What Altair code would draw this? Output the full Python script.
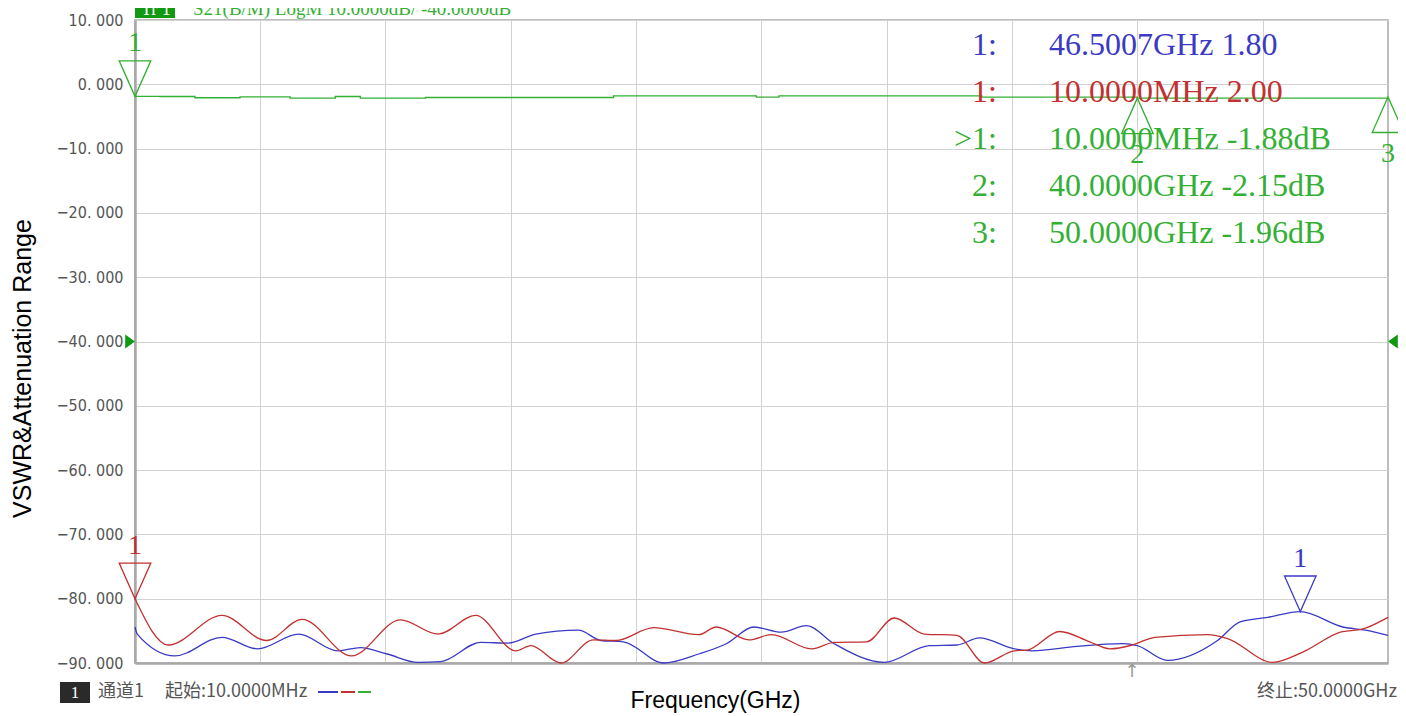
import altair as alt
import pandas as pd

# ---------------- data ----------------
blue_f = [0.01, 0.1, 1.6, 3.48, 4.9, 6.54, 8.1, 9.0, 10.07, 11.3, 12.2, 13.8, 14.9, 16.0,
          17.7, 18.6, 19.5, 21.1, 22.5, 23.6, 24.7, 25.8, 26.8, 27.9, 29.9, 31.7, 32.8,
          33.7, 35.1, 35.8, 37.6, 39.4, 40.0, 41.2, 43.2, 44.1, 45.2, 46.5, 48.2, 49.1, 50.0]
blue_v = [-84.4, -85.5, -88.9, -86.0, -87.8, -85.5, -88.1, -87.6, -88.6, -89.9, -89.8,
          -86.8, -86.9, -85.5, -84.9, -86.5, -86.7, -90.0, -88.6, -87.0, -84.4, -85.2,
          -84.2, -87.0, -89.9, -87.3, -87.2, -86.1, -87.8, -88.1, -87.4, -87.0, -87.3,
          -89.6, -86.5, -83.6, -82.9, -82.0, -84.4, -84.9, -85.7]

red_f = [0.01, 1.34, 3.48, 5.26, 6.68, 8.65, 10.6, 12.1, 13.6, 15.2, 15.8, 17.0, 18.3,
         19.2, 20.7, 22.5, 23.2, 24.5, 25.4, 27.0, 27.9, 29.2, 30.3, 31.5, 32.8, 33.9,
         35.1, 35.6, 36.9, 38.1, 38.9, 39.8, 40.7, 42.8, 43.6, 45.4, 46.6, 48.1, 49.0, 50.0]
red_v = [-80.0, -87.2, -82.6, -86.5, -83.2, -88.9, -83.3, -85.5, -82.6, -88.1, -87.3,
         -90.0, -86.4, -86.5, -84.5, -85.6, -84.4, -86.4, -85.6, -87.8, -86.8, -86.7,
         -83.0, -85.5, -85.7, -90.0, -88.1, -88.0, -85.1, -86.7, -87.8, -87.2, -86.0,
         -85.6, -86.2, -89.9, -88.3, -85.2, -84.7, -82.9]

green_f = [0.01, 1.0, 2.4, 4.2, 6.2, 8.0, 9.0, 11.6, 19.1, 24.8, 25.7, 33.8, 40.0, 50.0]
green_v = [-1.88, -1.9, -2.1, -1.95, -2.15, -1.9, -2.15, -2.05, -1.8, -2.0, -1.8, -2.0, -2.15, -1.96]

# markers
down_f = [0.01, 0.01, 46.5007]
down_v = [-1.88, -80.0, -82.0]
down_trace = ["S21", "VSWR2", "VSWR1"]
down_label = ["1", "1", "1"]

up_f = [40.0, 50.0]
up_v = [-2.15, -1.96]
up_trace = ["S21", "S21"]
up_label = ["2", "3"]

# marker read-out table
tbl_id = ["1:", "1:", ">1:", "2:", "3:"]
tbl_val = ["46.5007GHz 1.80", "10.0000MHz 2.00", "10.0000MHz -1.88dB",
           "40.0000GHz -2.15dB", "50.0000GHz -1.96dB"]
tbl_trace = ["VSWR1", "VSWR2", "S21", "S21", "S21"]

y_ticks = [10, 0, -10, -20, -30, -40, -50, -60, -70, -80, -90]
x_grid = [5, 10, 15, 20, 25, 30, 35, 40, 45]
ref_level = -40.0

BLUE, RED, GREEN = "#3a3ac4", "#c23030", "#33b033"
TXT_BLUE, TXT_RED, TXT_GREEN = "#2e2eb0", "#b02222", "#2aa82a"
trace_scale = alt.Scale(domain=["VSWR1", "VSWR2", "S21"], range=[BLUE, RED, GREEN])
text_scale = alt.Scale(domain=["VSWR1", "VSWR2", "S21"], range=[TXT_BLUE, TXT_RED, TXT_GREEN])

traces = pd.concat([
    pd.DataFrame({"f": blue_f, "v": blue_v, "trace": "VSWR1"}),
    pd.DataFrame({"f": red_f, "v": red_v, "trace": "VSWR2"}),
])
green_df = pd.DataFrame({"f": green_f, "v": green_v, "trace": "S21"})
down_df = pd.DataFrame({"f": down_f, "v": down_v, "trace": down_trace, "lab": down_label})
up_df = pd.DataFrame({"f": up_f, "v": up_v, "trace": up_trace, "lab": up_label})

xs = alt.Scale(domain=[0.01, 50.0], nice=False, zero=False)
ys = alt.Scale(domain=[-90, 10], nice=False, zero=False)

x_enc = alt.X("f:Q", scale=xs, axis=alt.Axis(
    values=x_grid, labels=False, ticks=False, grid=True, gridColor="#d2d2d2", gridWidth=1,
    domainColor="#a8a8a8", domainWidth=2.5, title="Frequency(GHz)",
    titleFont="Liberation Sans", titleFontSize=23, titleFontWeight="normal", titleColor="#000",
    titleX=580, titleY=37, titleBaseline="middle", titleAlign="center"))
y_enc = alt.Y("v:Q", scale=ys, axis=alt.Axis(
    values=y_ticks, labelExpr="replace(format(datum.value, '.3f'), '.', '. ')",
    ticks=False, grid=True, gridColor="#d2d2d2", gridWidth=1,
    domainColor="#a8a8a8", domainWidth=2.5, labelFont="DejaVu Sans Condensed",
    labelFontSize=16, labelColor="#555555", labelPadding=12,
    title="VSWR&Attenuation Range", titleFont="Liberation Sans", titleFontSize=25,
    titleFontWeight="normal", titleColor="#000", titleX=-113, titleY=348,
    titleAlign="center", titleBaseline="middle"))

lines = alt.Chart(traces).mark_line(strokeWidth=1.3, interpolate="monotone").encode(
    x=x_enc, y=y_enc,
    color=alt.Color("trace:N", scale=trace_scale, legend=None),
    detail="trace:N")

green_line = alt.Chart(green_df).mark_line(strokeWidth=1.4, interpolate="step-after").encode(
    x=alt.X("f:Q", scale=xs), y=alt.Y("v:Q", scale=ys),
    color=alt.Color("trace:N", scale=trace_scale, legend=None))

TRI_DOWN = "M0,0 L-1,-2.25 L1,-2.25 Z"
TRI_UP = "M0,0 L-1,2.25 L1,2.25 Z"

down_pts = alt.Chart(down_df).mark_point(shape=TRI_DOWN, size=1000, filled=False,
                                         strokeWidth=1.3, opacity=1).encode(
    x=alt.X("f:Q", scale=xs), y=alt.Y("v:Q", scale=ys),
    color=alt.Color("trace:N", scale=trace_scale, legend=None))
down_lab = alt.Chart(down_df).mark_text(font="Liberation Serif", fontSize=28, dy=-53,
                                        baseline="middle").encode(
    x=alt.X("f:Q", scale=xs), y=alt.Y("v:Q", scale=ys), text="lab:N",
    color=alt.Color("trace:N", scale=text_scale, legend=None))
up_pts = alt.Chart(up_df).mark_point(shape=TRI_UP, size=1000, filled=False,
                                     strokeWidth=1.3, opacity=1).encode(
    x=alt.X("f:Q", scale=xs), y=alt.Y("v:Q", scale=ys),
    color=alt.Color("trace:N", scale=trace_scale, legend=None))
up_lab = alt.Chart(up_df).mark_text(font="Liberation Serif", fontSize=28, dy=57,
                                    baseline="middle").encode(
    x=alt.X("f:Q", scale=xs), y=alt.Y("v:Q", scale=ys), text="lab:N",
    color=alt.Color("trace:N", scale=text_scale, legend=None))

# reference-level arrows
ref_df = pd.DataFrame({"f": [0.01], "v": [ref_level]})
ref_left = alt.Chart(ref_df).mark_point(shape="M0,0 L-1.4,-1 L-1.4,1 Z", size=196, filled=True,
                                        color="#119911", opacity=1).encode(
    x=alt.X("f:Q", scale=xs), y=alt.Y("v:Q", scale=ys))
ref_df2 = pd.DataFrame({"f": [50.0], "v": [ref_level]})
ref_right = alt.Chart(ref_df2).mark_point(shape="M0,0 L1.4,-1 L1.4,1 Z", size=196, filled=True,
                                          color="#119911", opacity=1).encode(
    x=alt.X("f:Q", scale=xs), y=alt.Y("v:Q", scale=ys))

# marker table
tbl_df = pd.DataFrame({"id": tbl_id, "val": tbl_val, "trace": tbl_trace,
                       "row": list(range(len(tbl_id)))})
tbl_base = alt.Chart(tbl_df).transform_calculate(py="25 + datum.row * 47")
tbl_ids = tbl_base.mark_text(font="Liberation Serif", fontSize=32, align="right",
                             baseline="middle").encode(
    x=alt.value(862), y=alt.Y("py:Q", scale=None), text="id:N",
    color=alt.Color("trace:N", scale=text_scale, legend=None))
tbl_vals = tbl_base.mark_text(font="Liberation Serif", fontSize=32, align="left",
                              baseline="middle").encode(
    x=alt.value(914), y=alt.Y("py:Q", scale=None), text="val:N",
    color=alt.Color("trace:N", scale=text_scale, legend=None))

# header (partly cut off at the top, as in the reference)
one = pd.DataFrame({"a": [0]})
hdr_box = alt.Chart(one).mark_rect(color="#119911").encode(
    x=alt.value(0), x2=alt.value(40), y=alt.value(-24), y2=alt.value(-2))
hdr_tr = alt.Chart(one).mark_text(text="Tr 1", color="white", font="Liberation Serif",
                                  fontSize=18, align="left", baseline="alphabetic").encode(
    x=alt.value(6), y=alt.value(-5))
hdr_txt = alt.Chart(one).mark_text(text="S21(B/M)  LogM  10.0000dB/  -40.0000dB",
                                   color=GREEN, font="Liberation Serif", fontSize=19,
                                   align="left", baseline="alphabetic").encode(
    x=alt.value(58), y=alt.value(-5))

# footer
ft_box = alt.Chart(one).mark_rect(color="#2a2a2a").encode(
    x=alt.value(-75), x2=alt.value(-45), y=alt.value(662), y2=alt.value(683))
ft_one = alt.Chart(one).mark_text(text="1", color="white", font="Liberation Serif",
                                  fontSize=17, baseline="middle").encode(
    x=alt.value(-60), y=alt.value(673))
ft_ch = alt.Chart(one).mark_text(text="通道1", color="#555555", font="Noto Sans CJK SC",
                                 fontSize=18, align="left", baseline="middle").encode(
    x=alt.value(-37), y=alt.value(672))
ft_start = alt.Chart(one).mark_text(text="起始:10.0000MHz", color="#555555",
                                    font="Noto Sans CJK SC", fontSize=18, align="left",
                                    baseline="middle").encode(
    x=alt.value(30), y=alt.value(672))
ft_d1 = alt.Chart(one).mark_rule(color=BLUE, strokeWidth=2).encode(
    x=alt.value(183), x2=alt.value(203), y=alt.value(672))
ft_d2 = alt.Chart(one).mark_rule(color=RED, strokeWidth=2).encode(
    x=alt.value(206), x2=alt.value(220), y=alt.value(672))
ft_d3 = alt.Chart(one).mark_rule(color=GREEN, strokeWidth=2).encode(
    x=alt.value(223), x2=alt.value(236), y=alt.value(672))
ft_stop = alt.Chart(one).mark_text(text="终止:50.0000GHz", color="#555555",
                                   font="Noto Sans CJK SC", fontSize=18, align="right",
                                   baseline="middle").encode(
    x=alt.value(1262), y=alt.value(672))
ft_arrow = alt.Chart(one).mark_text(text="↑", color="#999999", font="DejaVu Sans",
                                    fontSize=18, baseline="top").encode(
    x=alt.value(997), y=alt.value(643))

chart = alt.layer(
    lines, green_line, down_pts, down_lab, up_pts, up_lab, ref_left, ref_right,
    tbl_ids, tbl_vals, hdr_box, hdr_tr, hdr_txt,
    ft_box, ft_one, ft_ch, ft_start, ft_d1, ft_d2, ft_d3, ft_stop, ft_arrow
).properties(
    width=1253, height=643,
    padding={"left": 127, "top": 12, "right": 10, "bottom": 50},
    autosize=alt.AutoSizeParams(type="none"),
    background="white",
).configure_view(stroke="#a8a8a8", strokeWidth=1.5)

chart.save("out.html", embed_options={"renderer": "svg", "actions": False})
